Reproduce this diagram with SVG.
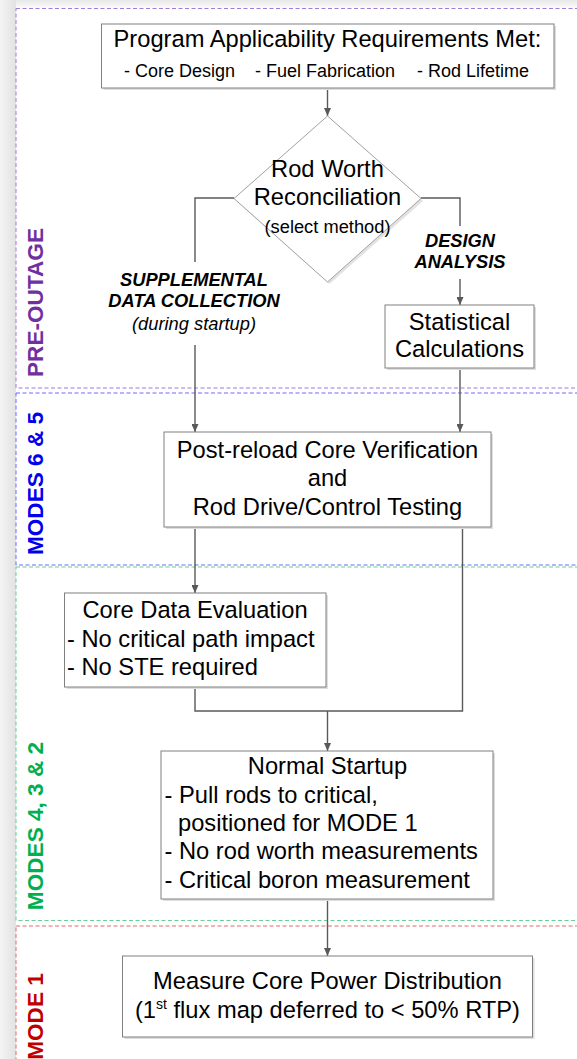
<svg xmlns="http://www.w3.org/2000/svg" width="577" height="1059" viewBox="0 0 577 1059">
<defs>
<linearGradient id="gl" x1="0" y1="0" x2="1" y2="0"><stop offset="0" stop-color="#f4f4f4"/><stop offset="1" stop-color="#e2e2e2"/></linearGradient>
<linearGradient id="gt" x1="0" y1="0" x2="0" y2="1"><stop offset="0" stop-color="#e8e8e8"/><stop offset="1" stop-color="#fbfbfb"/></linearGradient>
<marker id="ah" viewBox="0 0 8 7" refX="8" refY="3.5" markerWidth="8" markerHeight="7" markerUnits="userSpaceOnUse" orient="auto"><path d="M0,0 L8,3.5 L0,7 z" fill="#595959"/></marker>
</defs>
<style>
.lane{fill:none;stroke-width:1;stroke-dasharray:4 2.5}
.box{fill:#fff;stroke:#808080;stroke-width:1}
.sh{fill:#dedede}
.t{font-family:"Liberation Sans",Arial,sans-serif;font-size:23.7px;fill:#000}
.c{text-anchor:middle}
.s{font-size:18px}
.sm{font-size:18.3px}
.lab{font-family:"Liberation Sans",Arial,sans-serif;font-size:18.3px;font-weight:bold;font-style:italic;text-anchor:middle;fill:#000}
.labi{font-weight:normal}
.ln{font-family:"Liberation Sans",Arial,sans-serif;font-size:22.6px;font-weight:bold;text-anchor:middle}
.con{fill:none;stroke:#595959;stroke-width:1.4}
.arr{marker-end:url(#ah)}
</style>
<rect width="577" height="1059" fill="#fff"/>
<rect x="0" y="0" width="16" height="1059" fill="url(#gl)"/>
<rect x="16" y="0" width="561" height="8" fill="url(#gt)"/>
<g id="lanes">
<rect class="lane" x="16" y="8.5" width="600" height="379.5" stroke="#a27bd8"/>
<rect class="lane" x="16" y="393" width="600" height="172" stroke="#6b6bff"/>
<rect class="lane" x="16" y="567" width="600" height="353.5" stroke="#66cf9a"/>
<rect class="lane" x="16" y="926" width="600" height="160" stroke="#e06a6a"/>
<text class="ln" transform="translate(42.5,302.5) rotate(-90)" fill="#7030a0">PRE-OUTAGE</text>
<text class="ln" transform="translate(42.5,483.5) rotate(-90)" fill="#0000ee">MODES 6 &amp; 5</text>
<text class="ln" transform="translate(42.5,826) rotate(-90)" fill="#00b050">MODES 4, 3 &amp; 2</text>
<text class="ln" transform="translate(42.5,1016.5) rotate(-90)" fill="#c00000">MODE 1</text>
</g>
<g id="connectors">
<path class="con arr" d="M327.5 88 V116"/>
<path class="con" d="M234 198 H195 V262"/>
<path class="con arr" d="M195 345 V432"/>
<path class="con" d="M421 198 H460 V226"/>
<path class="con arr" d="M460 279 V305"/>
<path class="con arr" d="M460 368 V432"/>
<path class="con arr" d="M195 527 V593"/>
<path class="con" d="M195 687 V711 H462.5 V527"/>
<path class="con arr" d="M327.5 711 V751"/>
<path class="con arr" d="M327.5 899 V956"/>
</g>
<g id="labels">
<text class="lab" x="194" y="286">SUPPLEMENTAL</text>
<text class="lab" x="194" y="307">DATA COLLECTION</text>
<text class="lab labi" x="194" y="330">(during startup)</text>
<text class="lab" x="460" y="247">DESIGN</text>
<text class="lab" x="460" y="268">ANALYSIS</text>
</g>
<g id="n-requirements">
<rect class="sh" x="103.5" y="26" width="452.5" height="64"/>
<rect class="box" x="101.5" y="24" width="452.5" height="64"/>
<text class="t c" x="327.5" y="47">Program Applicability Requirements Met:</text>
<text class="t s" x="124" y="77">- Core Design</text>
<text class="t s" x="255" y="77">- Fuel Fabrication</text>
<text class="t s" x="417" y="77">- Rod Lifetime</text>
</g>
<g id="n-reconciliation">
<polygon points="329.5,118 423,201 329.5,284 236,201" fill="#e2e2e2"/>
<polygon points="327.5,116 421,198.5 327.5,282 234,198.5" fill="#fff" stroke="#a0a0a0" stroke-width="1"/>
<text class="t c" x="327.5" y="177">Rod Worth</text>
<text class="t c" x="327.5" y="205">Reconciliation</text>
<text class="t c sm" x="327.5" y="233">(select method)</text>
</g>
<g id="n-statistical">
<rect class="sh" x="387" y="307" width="149" height="63"/>
<rect class="box" x="385" y="305" width="149" height="63"/>
<text class="t c" x="459.5" y="330">Statistical</text>
<text class="t c" x="459.5" y="357">Calculations</text>
</g>
<g id="n-postreload">
<rect class="sh" x="166" y="434" width="327" height="95"/>
<rect class="box" x="164" y="432" width="327" height="95"/>
<text class="t c" x="327.5" y="458">Post-reload Core Verification</text>
<text class="t c" x="327.5" y="486">and</text>
<text class="t c" x="327.5" y="515">Rod Drive/Control Testing</text>
</g>
<g id="n-coredata">
<rect class="sh" x="66.5" y="595" width="261.5" height="94"/>
<rect class="box" x="64.5" y="593" width="261.5" height="94"/>
<text class="t c" x="195" y="618">Core Data Evaluation</text>
<text class="t" x="67" y="647">- No critical path impact</text>
<text class="t" x="67" y="675">- No STE required</text>
</g>
<g id="n-startup">
<rect class="sh" x="163" y="753" width="332" height="148"/>
<rect class="box" x="161" y="751" width="332" height="148"/>
<text class="t c" x="327.5" y="774">Normal Startup</text>
<text class="t" x="164.5" y="803">- Pull rods to critical,</text>
<text class="t" x="178" y="831">positioned for MODE 1</text>
<text class="t" x="164.5" y="859">- No rod worth measurements</text>
<text class="t" x="164.5" y="888">- Critical boron measurement</text>
</g>
<g id="n-measure">
<rect class="sh" x="124.5" y="958" width="410" height="81"/>
<rect class="box" x="122.5" y="956" width="410" height="81"/>
<text class="t c" x="327.5" y="989">Measure Core Power Distribution</text>
<text class="t c" x="327.5" y="1018">(1<tspan font-size="14" dy="-9">st</tspan><tspan dy="9"> flux map deferred to &lt; 50% RTP)</tspan></text>
</g>
</svg>
